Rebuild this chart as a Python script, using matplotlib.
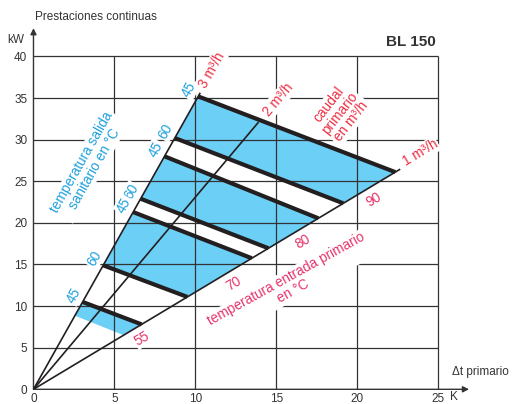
import numpy as np
import matplotlib.pyplot as plt

plt.rcParams['font.family'] = ['Liberation Sans', 'DejaVu Sans']

# primary flow lines (kW = slope * dt)
flow_labels = ['3 m³/h', '2 m³/h', '1 m³/h']
flow_slopes = [3.46, 2.31, 1.168]
flow_dt_max = [10.3, 13.9, 22.65]

# thick lines: kW where they meet the 3 m3/h line and the 1 m3/h line
iso_kw_3 = [35.2, 30.2, 28.0, 22.9, 21.3, 14.9, 10.5]
iso_kw_1 = [26.1, 22.35, 20.55, 16.95, 15.75, 11.1, 7.8]
outlet_temps = ['45', '60', '45', '60', '45', '60', '45']

# blue bands, top and bottom edge (kW on 3 and 1 m3/h lines)
band_top_3 = [35.2, 28.0, 21.3, 10.5]
band_top_1 = [26.1, 20.55, 15.75, 7.8]
band_bot_3 = [30.2, 22.9, 14.9, 8.85]
band_bot_1 = [22.35, 16.95, 11.1, 6.5]

inlet_temps = ['55', '70', '80', '90']
inlet_dt = [6.68, 12.34, 16.57, 20.99]

xticks = [0, 5, 10, 15, 20, 25]
yticks = [0, 5, 10, 15, 20, 25, 30, 35, 40]

blue_fill = '#6ccff6'
blue_txt = '#1ea0dc'
red_txt = '#ee2d43'
pink_txt = '#e6336a'
ink = '#231f20'
grey = '#333333'
fs = 8.5     # axis text
lfs = 9.8    # labels inside the chart

fig = plt.figure(figsize=(5.12, 4.04), dpi=100)
ax = fig.add_axes([0.0654, 0.0364, 0.8696, 0.9062])
ax.set_xlim(0, 27.5)
ax.set_ylim(0, 44)
for s in ax.spines.values():
    s.set_visible(False)

ax.set_xticks(xticks)
ax.set_yticks(yticks)
ax.tick_params(length=0, labelsize=fs, labelcolor=grey)
ax.tick_params(axis='x', pad=2.5)
ax.tick_params(axis='y', pad=4.5)

# grid
ax.vlines(xticks[1:], 0, 40, color=grey, lw=0.9, zorder=1.5)
ax.hlines(yticks[1:], 0, 25, color=grey, lw=0.9, zorder=1.5)

# axes with arrows
ax.annotate('', xy=(26.9, 0), xytext=(0, 0),
            arrowprops=dict(arrowstyle='-|>', color=grey, lw=1.0, mutation_scale=9,
                            shrinkA=0, shrinkB=0), annotation_clip=False)
ax.annotate('', xy=(0, 43.4), xytext=(0, 0),
            arrowprops=dict(arrowstyle='-|>', color=grey, lw=1.0, mutation_scale=9,
                            shrinkA=0, shrinkB=0), annotation_clip=False)

s3, s2, s1 = flow_slopes

# blue bands
for t3, t1, b3, b1 in zip(band_top_3, band_top_1, band_bot_3, band_bot_1):
    xs = [t3 / s3, t1 / s1, b1 / s1, b3 / s3]
    ys = [t3, t1, b1, b3]
    ax.fill(xs, ys, color=blue_fill, lw=0, zorder=1)

# flow lines
for sl, xm in zip(flow_slopes, flow_dt_max):
    ax.plot([0, xm], [0, sl * xm], color=ink, lw=1.2, zorder=3, solid_capstyle='butt')

# thick lines
for k3, k1 in zip(iso_kw_3, iso_kw_1):
    ax.plot([k3 / s3, k1 / s1], [k3, k1], color=ink, lw=3.0, zorder=3, solid_capstyle='butt')


def screen_angle(slope):
    p0 = ax.transData.transform((0, 0))
    p1 = ax.transData.transform((1, slope))
    return np.degrees(np.arctan2(p1[1] - p0[1], p1[0] - p0[0]))


a3, a2, a1 = [screen_angle(s) for s in flow_slopes]
wbox = dict(facecolor='white', edgecolor='none', pad=1.0)

# outlet temperature labels on the 3 m3/h line
for k3, lab in zip(iso_kw_3, outlet_temps):
    ax.annotate(lab, xy=(k3 / s3, k3), xytext=(-6.5, 5), textcoords='offset points',
                ha='center', va='center', rotation=a3, color=blue_txt, fontsize=lfs,
                zorder=2, bbox=wbox)

# inlet temperature labels under the 1 m3/h line
for dt, lab in zip(inlet_dt, inlet_temps):
    ax.annotate(lab, xy=(dt, s1 * dt), xytext=(0.5, -10), textcoords='offset points',
                ha='center', va='center', rotation=a1, color=pink_txt, fontsize=lfs,
                zorder=2, bbox=wbox)

# flow labels
ax.text(11.0, 38.4, flow_labels[0], rotation=a3, ha='center', va='center',
        color=red_txt, fontsize=lfs, zorder=2, bbox=wbox)
ax.text(15.12, 34.8, flow_labels[1], rotation=a2, ha='center', va='center',
        color=red_txt, fontsize=lfs, zorder=2, bbox=wbox)
ax.text(23.87, 28.4, flow_labels[2], rotation=a1, ha='center', va='center',
        color=red_txt, fontsize=lfs, zorder=2, bbox=wbox)
ax.text(18.93, 33.2, 'caudal\nprimario\nen m³/h', rotation=52, ha='center', va='center',
        color=red_txt, fontsize=lfs, linespacing=1.0, multialignment='center',
        zorder=2, bbox=wbox)

ax.text(3.37, 26.9, 'temperatura salida\nsanitario en °C', rotation=a3, ha='center',
        va='center', color=blue_txt, fontsize=lfs, linespacing=1.0,
        multialignment='center', zorder=2, bbox=wbox)
ax.text(15.84, 12.5, 'temperatura entrada primario\nen °C', rotation=29, ha='center',
        va='center', color=pink_txt, fontsize=lfs, linespacing=1.0,
        multialignment='center', zorder=2, bbox=wbox)

# axis titles
ax.text(25.83, 1.72, 'Δt primario', ha='left', va='baseline', color=grey, fontsize=fs,
        clip_on=False, bbox=wbox)
ax.text(25.97, -0.9, 'K', ha='center', va='center', color=grey, fontsize=fs, clip_on=False)
fig.text(35 / 512, 1 - 20 / 404, 'Prestaciones continuas', ha='left', va='baseline',
         color=grey, fontsize=fs)
fig.text(7 / 512, 1 - 42.7 / 404, 'kW', ha='left', va='baseline', color=grey, fontsize=fs)
fig.text(436 / 512, 1 - 45.7 / 404, 'BL 150', ha='right', va='baseline', color=grey,
         fontsize=11, fontweight='bold')

fig.savefig('out.png', dpi=100)
